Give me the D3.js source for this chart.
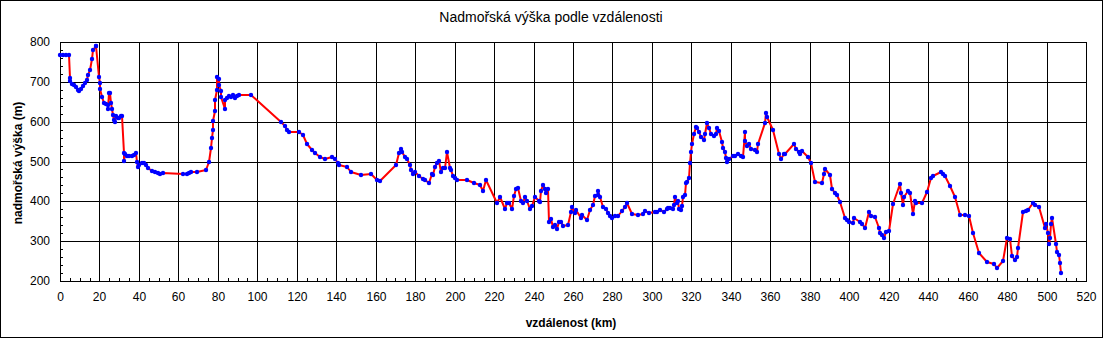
<!DOCTYPE html>
<html>
<head>
<meta charset="utf-8">
<script src="https://cdn.jsdelivr.net/npm/d3@7"></script>
<style>
  html, body { margin: 0; padding: 0; background: #fff; }
  svg { display: block; }
  text { font-family: "Liberation Sans", Arial, sans-serif; fill: #000; }
</style>
</head>
<body>
<svg id="chart" width="1103" height="338"></svg>
<script>
// ---- data (distance in km, elevation in m) ----
const distanceKm = [
  0,1.5,3,4.5,4.9,5.3,6.3,7.3,8.3,9.3,9.6,10.7,11.7,12.7,13.7,14.4,15.1,16.4,16.7,18.1,18.4,19.8,20.1,20.5,21.2,22.2,23.2,24.2,24.2,24.8,25.2,26.0,26.6,27.0,27.3,28.0,28.6,29.2,29.9,30.9,31.6,32.3,32.3,33.0,34.0,35.0,36.3,37.3,38.4,39.0,39.4,40.1,41.5,42.5,43.5,44.8,46.5,48.2,49.9,50.9,52.2,
  62.2,64.2,65.2,66.2,69.3,74.0,75.7,76.4,77.0,77.4,77.7,78.4,78.7,79.4,79.7,80.4,80.7,81.4,81.4,83.4,83.8,84.5,85.5,86.5,87.5,88.5,89.9,90.9,96.9,112.2,113.9,114.9,116.0,121.0,
  123.0,125.4,127.7,129.1,131.9,134.1,137.9,139.5,140.9,141.6,145.3,147.6,152.4,157.5,160.5,162.2,170.3,172.0,172.7,173.4,174.7,175.7,177.4,178.1,178.8,180.1,182.1,183.8,184.8,186.9,
  188.5,189.2,190.2,190.9,191.9,193.3,193.9,195.0,196.0,197.7,198.0,199.0,200.0,201.4,206.1,209.8,212.9,214.6,215.9,221.7,223.0,225.7,226.7,227.4,229.1,230.1,231.1,232.1,233.4,234.5,235.8,236.9,238.2,239.2,240.9,242.6,
  243.3,243.9,244.6,245.6,246.3,247.3,248.0,249.0,250.0,251.0,251.7,252.7,253.8,255.1,257.5,258.8,259.5,260.8,261.5,263.9,264.6,267.2,268.6,269.9,270.9,272.6,272.9,273.9,275.2,276.6,277.9,278.9,279.9,281.2,282.6,284.6,286.3,287.6,289.7,293.0,295.4,296.7,298.7,301.4,302.7,304.1,306.1,307.4,308.4,
  309.2,310.9,311.2,311.9,312.6,313.2,313.9,314.6,315.3,315.9,316.6,317.3,318.0,318.6,319.3,319.7,320.3,321.3,322.3,323.0,323.7,325.0,326.4,327.0,328.0,329.1,330.1,331.5,332.5,333.2,333.8,335.5,336.2,336.9,337.6,338.2,339.2,340.9,342.3,343.6,345.0,346.0,347.0,347.4,348.4,349.1,350.4,352.1,353.1,353.8,357.2,357.8,358.2,361.5,364.2,365.3,366.9,367.6,
  372.0,373.0,374.4,375.1,376.1,379.2,380.5,382.9,386.3,387.2,387.6,390.3,391.3,393.0,394.0,395.3,397.7,399.0,400.0,401.7,402.4,405.4,406.7,408.1,410.1,410.8,413.2,414.9,415.6,416.6,417.6,418.6,420.0,422.0,425.7,426.1,427.4,427.8,429.8,430.8,
  432.2,433.2,433.9,436.9,439.3,441.3,442.7,446.4,447.7,448.4,451.1,453.5,456.2,458.9,460.6,462.6,465.6,470.0,473.4,474.8,477.8,479.8,481.5,482.5,483.9,484.9,485.6,488.3,489.6,490.6,493.0,494.3,496.0,499.4,499.8,500.8,501.1,501.8,502.2,502.8,504.9,505.5,506.2,506.9,507.2
];
const elevationM = [
  768,768,768,768,710,701,695,691,687,679,676,683,689,696,705,716,730,757,781,791,789,713,696,683,663,646,644,642,632,671,671,646,632,617,605,599,614,609,610,614,614,521,501,520,515,515,515,516,521,500,486,491,495,496,491,484,476,473,471,469,471,
  469,469,472,473,474,479,500,535,558,580,602,627,654,679,713,708,693,676,661,632,654,659,664,663,668,659,664,668,666,599,590,580,575,575,
  567,543,530,521,511,506,511,506,496,491,486,474,466,469,454,451,491,521,531,523,511,506,491,479,469,473,463,456,453,446,
  468,466,486,495,501,474,484,483,523,483,479,463,458,454,454,446,441,427,454,395,412,382,397,395,382,414,432,434,400,395,412,402,382,389,412,400,
  399,427,442,432,420,432,347,355,335,340,330,349,347,337,340,372,387,370,377,358,365,353,379,392,414,416,426,412,385,380,370,362,357,363,363,375,387,395,367,365,368,375,370,372,372,378,373,382,384,
  384,382,392,410,397,402,382,377,389,412,417,446,449,459,496,523,545,570,587,585,574,562,554,570,597,583,570,564,570,584,577,548,533,523,510,500,506,515,515,520,515,511,575,551,538,543,531,530,525,545,597,622,612,580,520,506,518,520,
  545,531,525,520,527,511,495,449,446,469,481,466,431,422,417,399,357,353,348,345,357,348,343,333,374,364,361,333,321,315,308,323,326,394,444,420,392,412,427,420,
  367,402,395,395,423,458,464,473,468,463,439,410,365,365,362,321,271,247,242,232,249,308,306,263,253,261,283,374,375,377,395,390,385,333,343,321,294,308,342,358,294,274,266,244,219
];
const xTicks = [0,20,40,60,80,100,120,140,160,180,200,220,240,260,280,300,320,340,360,380,400,420,440,460,480,500,520];
const yTicks = [200,300,400,500,600,700,800];
const titleText = "Nadmořská výška podle vzdálenosti";
const xLabel = "vzdálenost (km)";
const yLabel = "nadmořská výška (m)";

// ---- layout ----
const W = 1103, H = 338;
const L = 60, R = 1086, T = 42, B = 281;

const svg = d3.select("#chart");
svg.append("rect").attr("width", W).attr("height", H).attr("fill", "#fff");

const x = d3.scaleLinear().domain([0, 520]).rangeRound([L, R]);
const y = d3.scaleLinear().domain([200, 800]).rangeRound([B, T]);

// grid lines
const g = svg.append("g");
g.selectAll(".vg").data(xTicks).join("line")
  .attr("x1", d => x(d) + 0.5).attr("x2", d => x(d) + 0.5)
  .attr("y1", T).attr("y2", B)
  .attr("stroke", "#000").attr("stroke-width", 1).attr("shape-rendering", "crispEdges");
g.selectAll(".hg").data(yTicks).join("line")
  .attr("x1", L).attr("x2", R)
  .attr("y1", d => y(d) + 0.5).attr("y2", d => y(d) + 0.5)
  .attr("stroke", "#000").attr("stroke-width", 1).attr("shape-rendering", "crispEdges");

// minor ticks
const xMinor = d3.range(0, 521, 5).filter(v => v % 20 !== 0);
const yMinor = d3.range(200, 801, 20).filter(v => v % 100 !== 0);
g.selectAll(".xm").data(xMinor).join("line")
  .attr("x1", d => x(d) + 0.5).attr("x2", d => x(d) + 0.5)
  .attr("y1", B).attr("y2", B - 3)
  .attr("stroke", "#000").attr("shape-rendering", "crispEdges");
g.selectAll(".ym").data(yMinor).join("line")
  .attr("x1", L).attr("x2", L + 3)
  .attr("y1", d => y(d) + 0.5).attr("y2", d => y(d) + 0.5)
  .attr("stroke", "#000").attr("shape-rendering", "crispEdges");

// plot border
svg.append("rect").attr("x", L + 0.5).attr("y", T + 0.5)
  .attr("width", R - L).attr("height", B - T)
  .attr("fill", "none").attr("stroke", "#000").attr("shape-rendering", "crispEdges");

// axes labels via d3 axes (no tick lines)
const xAxis = d3.axisBottom(x).tickValues(xTicks).tickSize(0).tickPadding(11).tickFormat(d3.format("d"));
svg.append("g").attr("transform", `translate(0,${B})`).call(xAxis)
  .call(a => a.select(".domain").remove())
  .call(a => a.selectAll("text").attr("font-size", 12).attr("font-family", '"Liberation Sans", Arial, sans-serif').attr("fill", "#000"));
const yAxis = d3.axisLeft(y).tickValues(yTicks).tickSize(0).tickPadding(10).tickFormat(d3.format("d"));
svg.append("g").attr("transform", `translate(${L},0)`).call(yAxis)
  .call(a => a.select(".domain").remove())
  .call(a => a.selectAll("text").attr("font-size", 12).attr("font-family", '"Liberation Sans", Arial, sans-serif').attr("fill", "#000"));

// data
const pts = distanceKm.map((d, i) => [d, elevationM[i]]);
const line = d3.line().x(d => x(d[0])).y(d => y(d[1]));
svg.append("path").datum(pts)
  .attr("d", line).attr("fill", "none")
  .attr("stroke", "#ff0000").attr("stroke-width", 2).attr("stroke-linejoin", "round");
svg.append("g").selectAll("circle").data(pts).join("circle")
  .attr("cx", d => x(d[0])).attr("cy", d => y(d[1])).attr("r", 2.2)
  .attr("fill", "#0000ff");

// titles
svg.append("text").attr("x", 551).attr("y", 22).attr("text-anchor", "middle")
  .attr("font-size", 14).text(titleText);
svg.append("text").attr("x", 571).attr("y", 327).attr("text-anchor", "middle")
  .attr("font-size", 12).attr("font-weight", "bold").text(xLabel);
svg.append("text").attr("transform", "translate(22,163) rotate(-90)").attr("text-anchor", "middle")
  .attr("font-size", 12).attr("font-weight", "bold").text(yLabel);

// outer border
svg.append("rect").attr("x", 0.5).attr("y", 0.5).attr("width", W - 1).attr("height", H - 1)
  .attr("fill", "none").attr("stroke", "#000").attr("shape-rendering", "crispEdges");
</script>
</body>
</html>
